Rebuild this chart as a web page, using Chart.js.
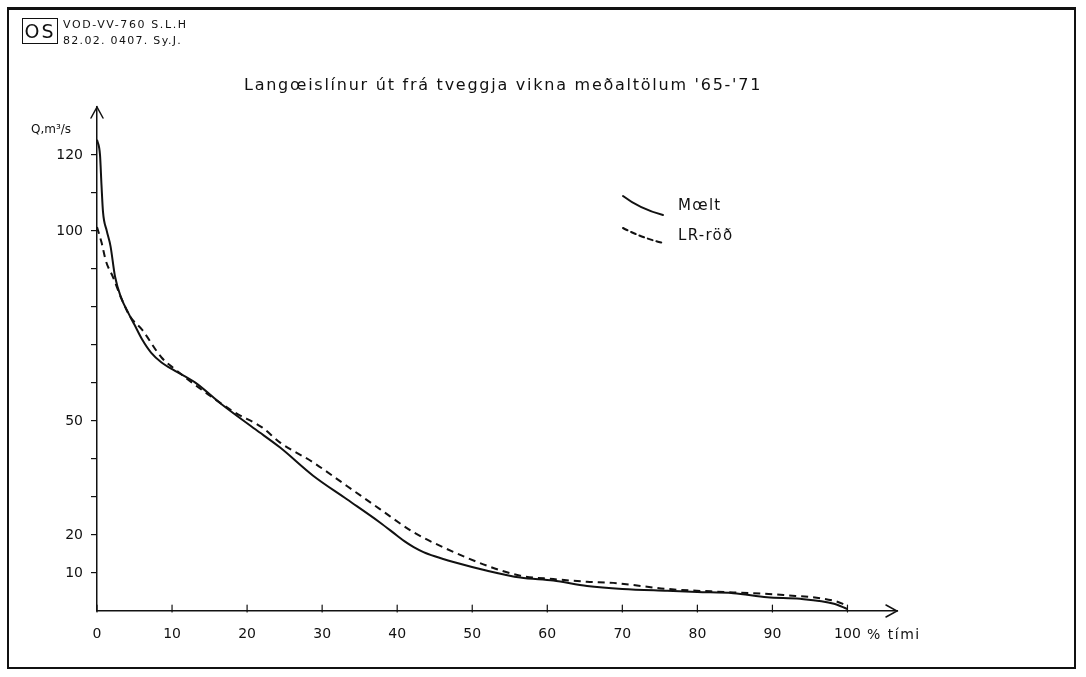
<!DOCTYPE html>
<html>
<head>
<meta charset="utf-8">
<script src="https://cdn.jsdelivr.net/npm/chart.js@4.4.1/dist/chart.umd.min.js"></script>
<style>
  html, body { margin: 0; padding: 0; background: #fff; }
  #wrap { position: relative; width: 1086px; height: 677px; overflow: hidden;
          font-family: 'DejaVu Sans', sans-serif; color: #111; }
  #frame { position: absolute; left: 7px; top: 7px; width: 1069px; height: 662px;
           border: 2px solid #111; border-top-width: 3px; box-sizing: border-box; }
  #mc { position: absolute; left: 0; top: 0; }
  .t { position: absolute; white-space: nowrap; line-height: 1; }
  #logo { position: absolute; left: 22px; top: 18px; width: 36px; height: 26px; border: 1.5px solid #111;
          font-size: 19px; letter-spacing: 2px; text-align: center; line-height: 25px; box-sizing: border-box; }
  #hdr1 { left: 63px; top: 19px; font-size: 11px; letter-spacing: 1.6px; }
  #hdr2 { left: 63px; top: 35px; font-size: 11px; letter-spacing: 1.3px; }
  #title { left: 244px; top: 77px; font-size: 16px; letter-spacing: 1.75px; }
  #qlab { left: 31px; top: 123px; font-size: 12px; }
  #xunit { left: 867px; top: 627px; font-size: 14px; letter-spacing: 1.5px; }
  #lg1 { left: 678px; top: 198px; font-size: 15px; letter-spacing: 1.3px; }
  #lg2 { left: 678px; top: 228px; font-size: 15px; letter-spacing: 1.3px; }
</style>
</head>
<body>
<div id="wrap">
  <div id="frame"></div>
  <canvas id="mc" width="1086" height="677"></canvas>
  <div id="logo">OS</div>
  <div class="t" id="hdr1">VOD-VV-760 S.L.H</div>
  <div class="t" id="hdr2">82.02. 0407. Sy.J.</div>
  <div class="t" id="title">Langœislínur út frá tveggja vikna meðaltölum '65-'71</div>
  <div class="t" id="qlab">Q,m³/s</div>
  <div class="t" id="xunit">% tími</div>
  <div class="t" id="lg1">Mœlt</div>
  <div class="t" id="lg2">LR-röð</div>
</div>
<script>
// duration curves: % of time vs discharge Q (m3/s)

// measured ("Mœlt")
const maeltPct = [0, 0.4, 0.6, 0.8, 1.3, 1.8, 2.4, 3.2, 4.2, 5, 6, 7.2, 8.6, 10.4, 13.1, 16.6, 21.1, 24.4,
                  28.8, 33.3, 37.7, 40, 41, 42.2, 43.5, 45, 47.5, 52, 56.4, 60.8, 65.3, 70, 76, 80, 84.8,
                  89.3, 93.7, 98.2, 100];
const maeltQ   = [124, 120, 112, 105, 100, 96, 88, 82.5, 78.3, 75.3, 71.5, 68, 65.4, 63.2, 60.1, 54.4, 47.8, 43,
                  35.6, 29.4, 23.3, 19.8, 18.3, 16.8, 15.5, 14.4, 12.9, 10.6, 8.8, 8.0, 6.6, 5.8, 5.3, 5.0, 4.7,
                  3.6, 3.2, 1.9, 0.5];

// model ("LR-röð")
const lrPct = [0, 0.6, 1.2, 2.1, 3.3, 4.4, 6, 8.6, 10.4, 14.8, 18.4, 22, 24.4, 28.8, 33.3, 37.7, 42.2,
               46.2, 52, 56.4, 60.8, 65.3, 68.8, 76, 84.8, 91.5, 98.2, 100];
const lrQ   = [101, 97, 92, 88, 82, 77.5, 74, 66.7, 63.6, 57, 52.2, 48.3, 44.3, 39.1, 32.9, 26.8, 20.7,
               16.7, 11.9, 9.3, 8.4, 7.7, 7.4, 5.8, 4.9, 4.2, 2.7, 1.4];

// axis ticks
const xTicks = [0, 10, 20, 30, 40, 50, 60, 70, 80, 90, 100];
const yTicks = [10, 20, 30, 40, 50, 60, 70, 80, 90, 100, 110, 120];
const yLabels = [10, 20, 50, 100, 120];

const INK = '#111';
const tickFont = { family: "'DejaVu Sans', sans-serif", size: 14 };

function toPoints(xs, ys) {
  return xs.map((x, i) => ({ x, y: ys[i] }));
}

// arrows on the axes, upward x ticks and the hand-drawn legend samples
const drawingBits = {
  id: 'drawingBits',
  afterDraw(chart) {
    const { ctx, chartArea: a, scales } = chart;
    ctx.save();
    ctx.strokeStyle = INK;
    ctx.lineWidth = 1.5;
    ctx.lineCap = 'round';
    // y arrow
    ctx.beginPath();
    ctx.moveTo(a.left - 6, a.top + 11);
    ctx.lineTo(a.left, a.top);
    ctx.lineTo(a.left + 6, a.top + 11);
    ctx.stroke();
    // x arrow
    ctx.beginPath();
    ctx.moveTo(a.right - 11, a.bottom - 6);
    ctx.lineTo(a.right, a.bottom);
    ctx.lineTo(a.right - 11, a.bottom + 6);
    ctx.stroke();
    // x ticks, drawn upward from the axis like on the sheet
    ctx.lineWidth = 1.2;
    xTicks.forEach(v => {
      const px = scales.x.getPixelForValue(v);
      ctx.beginPath();
      ctx.moveTo(px, a.bottom + 1);
      ctx.lineTo(px, a.bottom - 6);
      ctx.stroke();
    });
    // legend samples
    ctx.lineWidth = 2;
    ctx.beginPath();
    ctx.moveTo(623, 196);
    ctx.quadraticCurveTo(640, 209, 663, 215);
    ctx.stroke();
    ctx.setLineDash([5, 4]);
    ctx.beginPath();
    ctx.moveTo(623, 228);
    ctx.quadraticCurveTo(642, 238, 663, 243);
    ctx.stroke();
    ctx.restore();
  }
};

new Chart(document.getElementById('mc'), {
  type: 'line',
  data: {
    datasets: [
      {
        label: 'Mœlt',
        data: toPoints(maeltPct, maeltQ),
        borderColor: INK,
        borderWidth: 2,
        pointRadius: 0,
        cubicInterpolationMode: 'monotone',
        clip: false
      },
      {
        label: 'LR-röð',
        data: toPoints(lrPct, lrQ),
        borderColor: INK,
        borderWidth: 2,
        borderDash: [7, 5],
        pointRadius: 0,
        cubicInterpolationMode: 'monotone',
        clip: false
      }
    ]
  },
  options: {
    responsive: false,
    animation: false,
    layout: { padding: { left: 0, top: 107, right: 189, bottom: 0 } },
    plugins: { legend: { display: false }, tooltip: { enabled: false } },
    scales: {
      x: {
        type: 'linear',
        min: 0,
        max: 106.6,
        afterFit: s => { s.height = 66; },
        afterBuildTicks: s => { s.ticks = xTicks.map(v => ({ value: v })); },
        grid: { display: false },
        border: { display: true, color: INK, width: 1.5 },
        ticks: { color: INK, font: tickFont, padding: 7, maxRotation: 0, autoSkip: false }
      },
      y: {
        type: 'linear',
        min: 0,
        max: 132.6,
        afterFit: s => { s.width = 97; },
        afterBuildTicks: s => { s.ticks = yTicks.map(v => ({ value: v })); },
        grid: { drawOnChartArea: false, drawTicks: true, tickLength: 6, color: INK, lineWidth: 1.2 },
        border: { display: true, color: INK, width: 1.5 },
        ticks: {
          color: INK, font: tickFont, padding: 8, autoSkip: false,
          callback: v => yLabels.includes(v) ? String(v) : ''
        }
      }
    }
  },
  plugins: [drawingBits]
});
</script>
</body>
</html>
